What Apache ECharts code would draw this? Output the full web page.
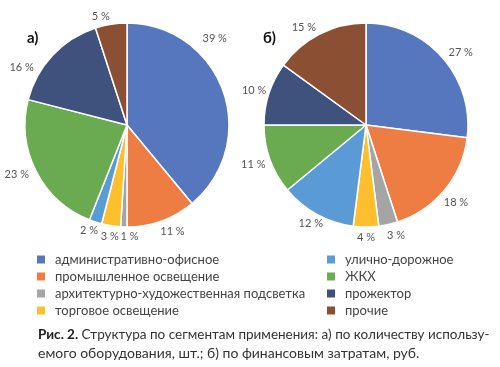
<!DOCTYPE html>
<html><head><meta charset="utf-8">
<script src="https://cdn.jsdelivr.net/npm/echarts@6/dist/echarts.min.js"></script>
<style>html,body{margin:0;padding:0;background:#fff}#c{width:500px;height:367px}</style>
</head><body><div id="c"></div>
<script>
const categories = ['административно-офисное','промышленное освещение','архитектурно-художественная подсветка','торговое освещение','улично-дорожное','ЖКХ','прожектор','прочие'];
const valuesA = [39, 11, 1, 3, 2, 23, 16, 5];
const valuesB = [27, 18, 3, 4, 12, 11, 10, 15];
const colors = ['#5677BE','#EE7D43','#A5A5A5','#FDBF2D','#5B9BD5','#6AAA50','#3F527D','#8B4F33'];
const panelLabels = ['а)', 'б)'];
const captionBold = 'Рис. 2.';
const captionLine1 = ' Структура по сегментам применения: а) по количеству использу-';
const captionLine2 = 'емого оборудования, шт.; б) по финансовым затратам, руб.';

// label nudges (best-fit style placement, like the original), [dx, dy] per slice
const nudgeA = {0:[-28,-49], 1:[-4,3], 2:[15,2], 3:[9,3], 4:[5,1], 6:[-13,18]};
const nudgeB = {1:[-7,7], 2:[-3,3], 3:[-9,2], 4:[10,2], 5:[3,2], 6:[5,-1]};

const font = 'Lato';
const chart = echarts.init(document.getElementById('c'), null, {renderer:'canvas'});
function pie(vals, cx, nudge){
  return {
    type:'pie', center:[cx,125], radius:[0,102], startAngle:90, clockwise:true,
    avoidLabelOverlap:false, animation:false,
    itemStyle:{borderColor:'#fff', borderWidth:1.5},
    label:{show:true, position:'outside', formatter:'{c} %', color:'#555', fontFamily:font, fontSize:11, distanceToLabelLine:0},
    labelLine:{show:false, length:8, length2:0},
    labelLayout:function(p){ const n = nudge[p.dataIndex]; return n ? {dx:n[0], dy:n[1], hideOverlap:false} : {hideOverlap:false}; },
    emphasis:{disabled:true},
    data: vals.map((v,i)=>({name:categories[i], value:v, itemStyle:{color:colors[i]}}))
  };
}
const legendBase = {orient:'vertical', itemWidth:10, itemHeight:10, itemGap:4, icon:'rect',
  textStyle:{fontFamily:font, fontSize:13, color:'#444', padding:[0,0,0,4]}, selectedMode:false};
chart.setOption({
  color: colors,
  title:[
    {text:panelLabels[0], left:22, top:26, textStyle:{fontFamily:font, fontSize:15, fontWeight:'bold', color:'#111'}},
    {text:panelLabels[1], left:258, top:26, textStyle:{fontFamily:font, fontSize:15, fontWeight:'bold', color:'#111'}},
    {text:'{b|'+captionBold+'}{n|'+captionLine1+'}\n{m|'+captionLine2+'}', left:33, top:321,
     textStyle:{fontWeight:'normal', rich:{b:{fontFamily:font, fontSize:13.5, fontWeight:'bold', color:'#222', lineHeight:18},
                      n:{fontFamily:font, fontSize:13.5, fontWeight:'normal', color:'#333', lineHeight:18},
                      m:{fontFamily:font, fontSize:14, fontWeight:'normal', color:'#333', lineHeight:18}}}}
  ],
  legend:[
    Object.assign({}, legendBase, {left:30, top:248, data:categories.slice(0,4)}),
    Object.assign({}, legendBase, {left:320, top:248, data:categories.slice(4)})
  ],
  series:[pie(valuesA,127,nudgeA), pie(valuesB,366,nudgeB)]
});
</script></body></html>
